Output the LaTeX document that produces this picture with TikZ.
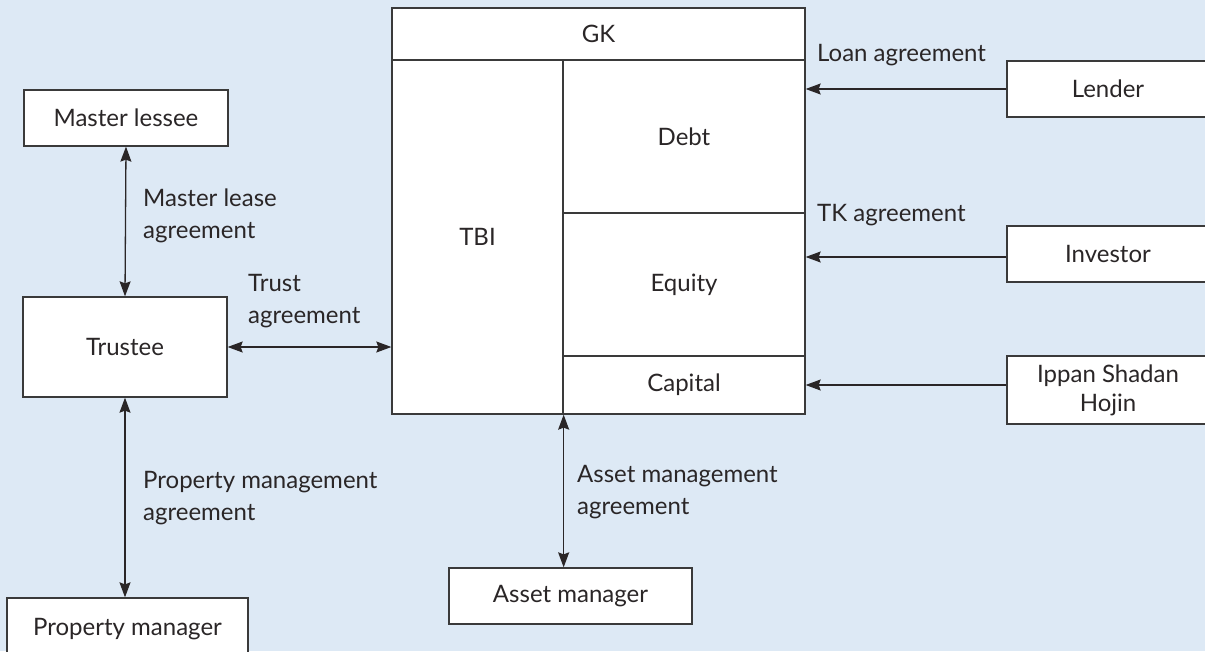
\documentclass[tikz,border=0pt]{standalone}
\usepackage{fontspec}
\setmainfont{Lato}
\usetikzlibrary{arrows.meta}
\definecolor{bgblue}{HTML}{DDE9F5}
\definecolor{ink}{HTML}{2A2627}
\definecolor{edge}{HTML}{3A3A3A}
\begin{document}
\begin{tikzpicture}[x=1pt,y=-1pt,
  font=\fontsize{24}{32}\selectfont, text=ink,
  cell/.style={draw=edge, line width=1.3pt, fill=white, rectangle, inner sep=0pt, anchor=center},
  lbl/.style={anchor=west, align=left, inner sep=0pt},
  link/.style={draw=ink, line width=1.3pt, >={Stealth[length=15pt,width=11pt,inset=2pt]}}]
% backdrop
\useasboundingbox (0,0) rectangle (1205,651);
\fill[bgblue] (0,0) rectangle (1205,651);
\begin{scope}
\clip (0,0) rectangle (1205,651);
% central structure: GK over TBI / Debt / Equity / Capital
\node[cell, minimum width=413pt, minimum height=52pt] (gk) at (598.5,34) {GK};
\node[cell, minimum width=171pt, minimum height=354pt] (tbi) at (477.5,237) {TBI};
\node[cell, minimum width=242pt, minimum height=153pt] (debt) at (684,136.5) {Debt};
\node[cell, minimum width=242pt, minimum height=143pt] (equity) at (684,284.5) {Equity};
\node[cell, minimum width=242pt, minimum height=58pt] (capital) at (684,385) {Capital};
% surrounding parties
\node[cell, minimum width=204pt, minimum height=56pt] (lessee) at (126,118) {Master lessee};
\node[cell, minimum width=204pt, minimum height=100pt] (trustee) at (125,347) {Trustee};
\node[cell, minimum width=241pt, minimum height=62pt] (pm) at (127.5,629) {Property manager};
\node[cell, minimum width=243pt, minimum height=56pt] (am) at (570.5,596) {Asset manager};
\node[cell, minimum width=202pt, minimum height=56pt] (lender) at (1108,89) {Lender};
\node[cell, minimum width=202pt, minimum height=56pt] (investor) at (1108,254) {Investor};
\node[cell, minimum width=202pt, minimum height=68pt, align=center, font=\fontsize{24}{29}\selectfont] (ippan) at (1108,390) {Ippan Shadan\\Hojin};
% agreements
\draw[link,<->] (lessee.south) -- (trustee.north);
\draw[link,<->] (trustee.east) -- (trustee.east -| tbi.west);
\draw[link,<->] (trustee.south) -- (trustee.south |- pm.north);
\draw[link,<->] (tbi.south east) -- (tbi.south east |- am.north);
\draw[link,->] (lender.west) -- (lender.west -| debt.east);
\draw[link,->] ([yshift=-3pt]investor.west) -- ([yshift=-3pt]investor.west -| equity.east);
\draw[link,->] (ippan.west |- capital.east) -- (capital.east);
\end{scope}
% agreement labels
\node[lbl] (mlA) at (143,216) {Master lease\\agreement};
\node[lbl] (trA) at (248,301) {Trust\\agreement};
\node[lbl] (pmA) at (143,498) {Property management\\agreement};
\node[lbl] (amA) at (577,492) {Asset management\\agreement};
\node[lbl] (loanA) at (817,55) {Loan agreement};
\node[lbl] (tkA) at (817,215) {TK agreement};
\end{tikzpicture}
\end{document}
